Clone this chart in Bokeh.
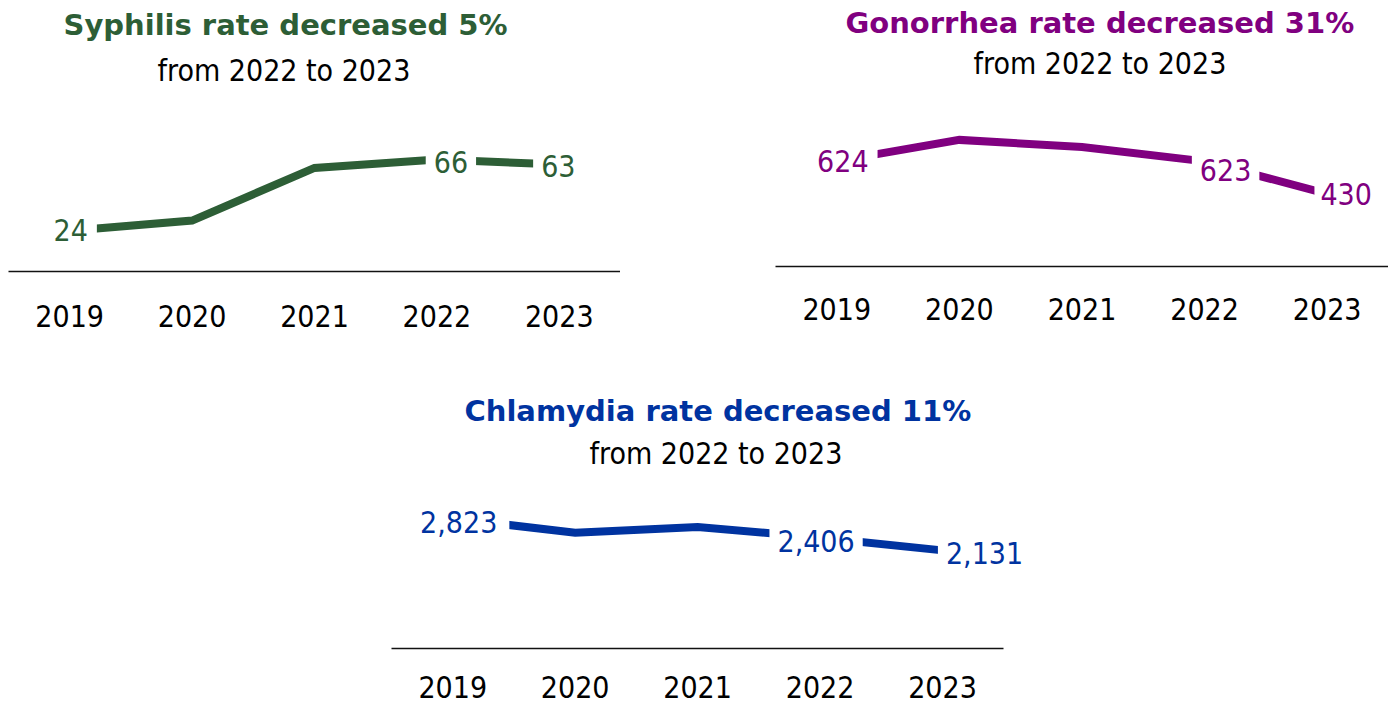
from bokeh.plotting import figure
from bokeh.models import Range1d, FixedTicker, Label, Title
from bokeh.layouts import column, row
from bokeh.embed import file_html
from bokeh.resources import INLINE

# ---- data ----
years = ["2019", "2020", "2021", "2022", "2023"]
syphilis = [24, 30, 61, 66, 63]
gonorrhea = [624, 750, 708, 623, 430]
chlamydia = [2823, 2515, 2640, 2406, 2131]
labeled_points = [0, 3, 4]

syph_title = "Syphilis rate decreased 5%"
gono_title = "Gonorrhea rate decreased 31%"
chla_title = "Chlamydia rate decreased 11%"
subtitle = "from 2022 to 2023"

GREEN = "#2D5E36"
PURPLE = "#800080"
BLUE = "#0033A0"
REG = "DejaVu Sans Condensed"
BOLD = "DejaVu Sans"


def panel(values, color, title, width, height, left, top, bottom, y_end,
          t_off, s_off, t_stand, s_stand, lab_style, tick_standoff, x_extra=0.0):
    idx = list(range(len(years)))
    p = figure(width=width, height=height, output_backend="svg",
               toolbar_location=None, x_range=Range1d(-0.5, 4.5 + x_extra),
               y_range=Range1d(0, y_end), y_axis_location=None,
               min_border_left=left, min_border_right=0,
               min_border_top=top, min_border_bottom=bottom)
    p.title = None
    p.outline_line_color = None
    p.xgrid.visible = False
    p.ygrid.visible = False
    ax = p.xaxis[0]
    ax.bounds = (-0.5, 4.5)
    ax.ticker = FixedTicker(ticks=idx)
    ax.major_label_overrides = {i: y for i, y in enumerate(years)}
    ax.major_tick_line_color = None
    ax.minor_tick_line_color = None
    ax.major_tick_out = 0
    ax.axis_line_color = "#111111"
    ax.axis_line_width = 1.5
    ax.major_label_text_font = REG
    ax.major_label_text_font_size = "30px"
    ax.major_label_text_color = "#000000"
    ax.major_label_standoff = tick_standoff

    p.line(idx, values, line_width=8, color=color, line_join="miter")

    for i, (dx, dy, pad) in zip(labeled_points, lab_style):
        p.add_layout(Label(x=idx[i], y=values[i], text=f"{values[i]:,}",
                           x_offset=dx, y_offset=dy, text_align="center",
                           text_baseline="middle", text_font=REG,
                           text_font_size="30px", text_color=color,
                           background_fill_color="white", padding=pad))

    p.add_layout(Title(text=subtitle, text_font=REG, text_font_size="30px",
                       text_font_style="normal", text_color="#000000",
                       align="left", offset=s_off, standoff=s_stand), "above")
    p.add_layout(Title(text=title, text_font=BOLD, text_font_size="29px",
                       text_font_style="bold", text_color=color,
                       align="left", offset=t_off, standoff=t_stand), "above")
    return p


p1 = panel(syphilis, GREEN, syph_title, width=620, height=350, left=8,
           top=90, bottom=79, y_end=106, t_off=55, s_off=149,
           t_stand=10, s_stand=8,
           lab_style=[(1, 1, 9), (14, -3, 8), (-1, -1, 8)], tick_standoff=33)
p2 = panel(gonorrhea, PURPLE, gono_title, width=768, height=350, left=155,
           top=82, bottom=84, y_end=1090, t_off=70, s_off=198,
           t_stand=4, s_stand=4,
           lab_style=[(6, 0, 9), (21, -9, 8), (19, 0, 6)], tick_standoff=31)
p3 = panel(chlamydia, BLUE, chla_title, width=1040, height=354, left=391,
           top=123, bottom=56, y_end=3800, t_off=73, s_off=198,
           t_stand=6, s_stand=6,
           lab_style=[(6, -4, 12), (-4, -3, 8), (42, -3, 8)], tick_standoff=27,
           x_extra=0.3)

layout = column(row(p1, column(p2)), p3)
open("out.html", "w").write(file_html(layout, INLINE))
